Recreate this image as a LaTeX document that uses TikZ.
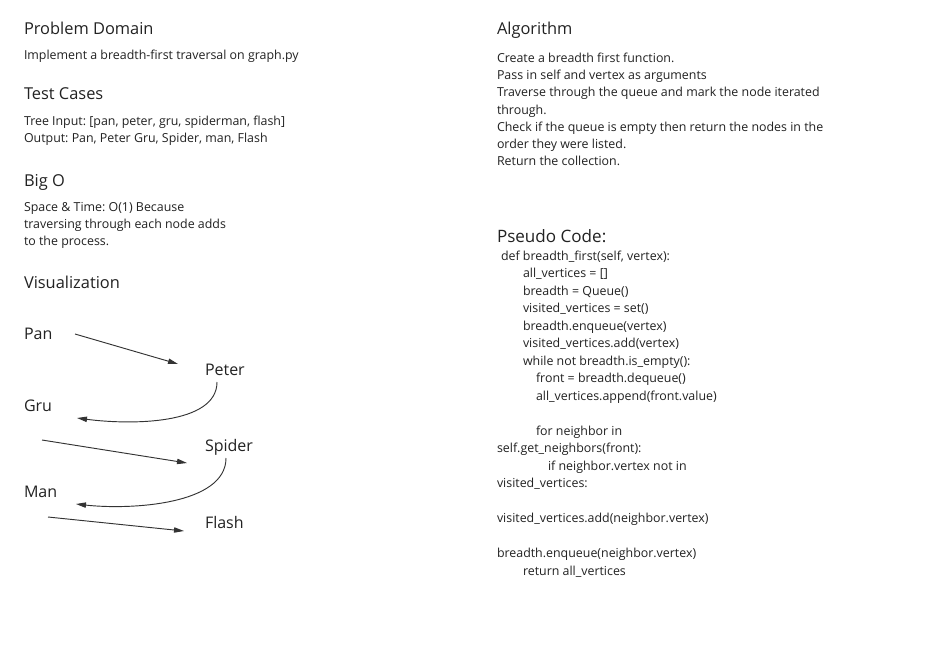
\documentclass[tikz,border=0pt]{standalone}
\usepackage{fontspec}
\setmainfont{Open Sans}
\usetikzlibrary{arrows.meta}
\definecolor{ink}{HTML}{222222}
\definecolor{lineink}{HTML}{333333}
\frenchspacing
\begin{document}
\frenchspacing
\begin{tikzpicture}[x=0.75pt,y=-0.75pt,
  txt/.style={anchor=base west,inner sep=0pt,outer sep=0pt,text=ink},
  head/.style={txt,font=\fontsize{12.3pt}{14pt}\selectfont},
  body/.style={txt,font=\fontsize{9.3pt}{12pt}\selectfont},
  code/.style={txt,font=\fontsize{9.3pt}{12pt}\selectfont},
  pshead/.style={txt,font=\fontsize{12.8pt}{15pt}\selectfont},
  vlabel/.style={txt,font=\fontsize{12pt}{14pt}\selectfont},
  conn/.style={draw=lineink,line width=0.7pt,-{Triangle[length=7.5pt,width=4pt]}}]
\useasboundingbox (0,0) rectangle (949,651);
\fill[white] (0,0) rectangle (949,651);
% left column
\node[head] (pd) at (24,34.3) {Problem Domain};
\node[body] (pdt) at (24,59) {Implement a breadth-first traversal on graph.py};
\node[head] (tc) at (24,99) {Test Cases};
\node[body] (tc1) at (24,125) {Tree Input: [pan, peter, gru, spiderman, flash]};
\node[body] (tc2) at (24,142.7) {Output: Pan, Peter Gru, Spider, man, Flash};
\node[head] (bo) at (24,186.7) {Big O};
\node[body] (bo1) at (24,211) {Space \& Time: O(1) Because};
\node[body] (bo2) at (24,228.3) {traversing through each node adds};
\node[body] (bo3) at (24,245.6) {to the process.};
\node[head] (vz) at (24,288) {Visualization};
% visualization
\node[vlabel] (pan) at (24,339) {Pan};
\node[vlabel] (peter) at (205,375) {Peter};
\node[vlabel] (gru) at (24,411.7) {Gru};
\node[vlabel] (spider) at (205,451.7) {Spider};
\node[vlabel] (man) at (24,497.7) {Man};
\node[vlabel] (flash) at (205,528.7) {Flash};
\coordinate (panout) at (75,334);
\coordinate (peterin) at (178,364);
\coordinate (peterout) at (217,382);
\coordinate (gruin) at (77,418);
\coordinate (gruout) at (42,440);
\coordinate (spiderin) at (187,463);
\coordinate (spiderout) at (226,458);
\coordinate (manin) at (76,504);
\coordinate (manout) at (48,517);
\coordinate (flashin) at (184,531);
\draw[conn] (panout) -- (peterin);
\draw[conn] (peterout) .. controls (217,425) and (130,425) .. (gruin);
\draw[conn] (gruout) -- (spiderin);
\draw[conn] (spiderout) .. controls (226,505) and (130,510) .. (manin);
\draw[conn] (manout) -- (flashin);
% algorithm
\node[head] (al) at (497,34) {Algorithm};
\node[body] (al1) at (497,62.3) {Create a breadth first function.};
\node[body] (al2) at (497,79.55) {Pass in self and vertex as arguments};
\node[body] (al3) at (497,96.8) {Traverse through the queue and mark the node iterated};
\node[body] (al4) at (497,114.05) {through.};
\node[body] (al5) at (497,131.3) {Check if the queue is empty then return the nodes in the};
\node[body] (al6) at (497,148.55) {order they were listed.};
\node[body] (al7) at (497,165.8) {Return the collection.};
% pseudo code
\node[pshead] (ps) at (497,242.7) {Pseudo Code:};
\node[code] (c0) at (501,260) {def breadth\_first(self, vertex):};
\node[code] (c1) at (523,277.5) {all\_vertices = []};
\node[code] (c2) at (523,295) {breadth = Queue()};
\node[code] (c3) at (523,312.5) {visited\_vertices = set()};
\node[code] (c4) at (523,330) {breadth.enqueue(vertex)};
\node[code] (c5) at (523,347.5) {visited\_vertices.add(vertex)};
\node[code] (c6) at (523,365) {while not breadth.is\_empty():};
\node[code] (c7) at (536,382.5) {front = breadth.dequeue()};
\node[code] (c8) at (536,400) {all\_vertices.append(front.value)};
\node[code] (c10) at (536,435) {for neighbor in};
\node[code] (c11) at (497,452.5) {self.get\_neighbors(front):};
\node[code] (c12) at (548,470) {if neighbor.vertex not in};
\node[code] (c13) at (497,487.5) {visited\_vertices:};
\node[code] (c15) at (497,522.5) {visited\_vertices.add(neighbor.vertex)};
\node[code] (c17) at (497,557.5) {breadth.enqueue(neighbor.vertex)};
\node[code] (c18) at (523,575) {return all\_vertices};
\end{tikzpicture}
\end{document}
